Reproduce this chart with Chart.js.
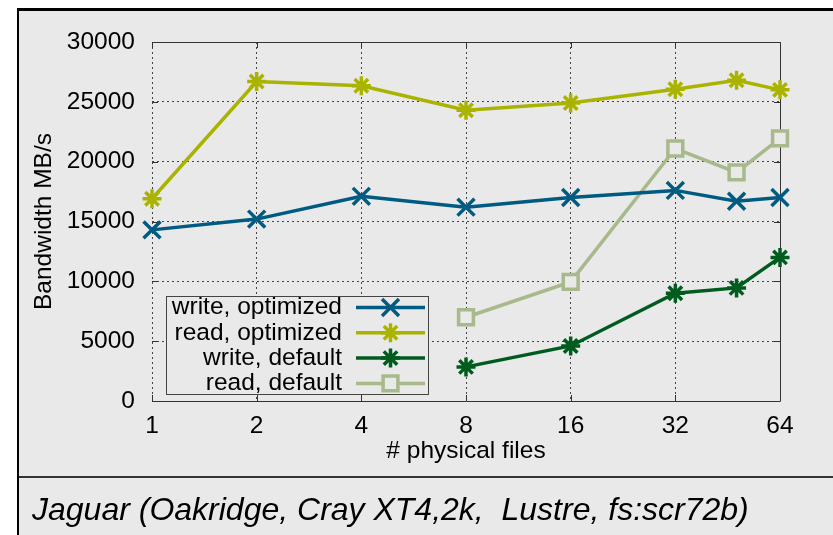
<!DOCTYPE html>
<html><head><meta charset="utf-8">
<script src="https://cdn.jsdelivr.net/npm/chart.js@4/dist/chart.umd.min.js"></script>
<style>html,body{margin:0;padding:0;background:#fff;} canvas{display:block;}</style>
</head><body>
<canvas id="c" width="833" height="535"></canvas>
<script>
const files = [1, 2, 4, 8, 16, 32, 48, 64];
const xTickLabels = ['1', '2', '4', '8', '16', '32', '64'];
const writeOptimized = [14300, 15200, 17100, 16200, 17000, 17600, 16700, 17000];
const readOptimized  = [16900, 26700, 26350, 24300, 24900, 26050, 26800, 26000];
const writeDefault   = [null, null, null, 2850, 4600, 9000, 9450, 12000];
const readDefault    = [null, null, null, 7000, 9950, 21100, 19100, 21950];
const seriesLabels = ['write, optimized', 'read, optimized', 'write, default', 'read, default'];
const yTitle = 'Bandwidth MB/s';
const xTitle = '# physical files';
const caption = 'Jaguar (Oakridge, Cray XT4,2k,  Lustre, fs:scr72b)';

const FONT = "'Liberation Sans', Arial, sans-serif";
const FS = 24.5;
const BG = '#e9e9e9';
const colors = ['#005b82', '#aab400', '#005c1e', '#a8b98b'];
const styles = ['crossRot', 'star', 'star', 'rect'];
const radii = [12, 9.5, 9.5, 10.5];
const seriesValues = [writeOptimized, readOptimized, writeDefault, readDefault];

function toPoints(vals) {
  const pts = [];
  vals.forEach((v, i) => { if (v !== null) pts.push({ x: Math.log2(files[i]), y: v }); });
  return pts;
}

const datasets = seriesValues.map((vals, i) => ({
  label: seriesLabels[i],
  data: toPoints(vals),
  borderColor: colors[i],
  backgroundColor: colors[i],
  pointBackgroundColor: styles[i] === 'rect' ? BG : colors[i],
  pointBorderColor: colors[i],
  pointStyle: styles[i],
  pointRadius: radii[i],
  pointHoverRadius: radii[i],
  pointBorderWidth: 3.5,
  borderWidth: 3.5,
  tension: 0,
  clip: false
}));

const framePlugin = {
  id: 'frame',
  beforeDraw(chart) {
    const ctx = chart.ctx; ctx.save();
    ctx.fillStyle = '#fff'; ctx.fillRect(0, 0, 833, 535);
    ctx.fillStyle = BG; ctx.fillRect(18, 8, 815, 527);
    ctx.fillStyle = '#000'; ctx.fillRect(17, 8, 816, 3); ctx.fillRect(17, 8, 2, 527);
    ctx.fillStyle = '#333'; ctx.fillRect(19, 476, 814, 2);
    ctx.fillStyle = '#000'; ctx.font = 'italic 32px ' + FONT;
    ctx.textAlign = 'left'; ctx.textBaseline = 'alphabetic';
    ctx.fillText(caption, 32, 520);
    ctx.restore();
  },
  beforeDatasetsDraw(chart) {
    const ctx = chart.ctx, a = chart.chartArea;
    const xs = chart.scales.x, ys = chart.scales.y;
    ctx.save();
    ctx.strokeStyle = '#333'; ctx.lineWidth = 1; ctx.setLineDash([]);
    ctx.beginPath();
    ctx.moveTo(a.left, a.top + 0.5); ctx.lineTo(a.right + 0.5, a.top + 0.5);
    ctx.lineTo(a.right + 0.5, a.bottom + 0.5); ctx.lineTo(a.left, a.bottom + 0.5);
    ys.ticks.forEach(t => {
      const y = Math.round(ys.getPixelForValue(t.value)) + 0.5;
      ctx.moveTo(a.left, y); ctx.lineTo(a.left + 6, y);
      ctx.moveTo(a.right, y); ctx.lineTo(a.right - 6, y);
    });
    xs.ticks.forEach(t => {
      const x = Math.round(xs.getPixelForValue(t.value)) + 0.5;
      ctx.moveTo(x, a.bottom); ctx.lineTo(x, a.bottom - 6);
      ctx.moveTo(x, a.top); ctx.lineTo(x, a.top + 6);
    });
    ctx.stroke();
    ctx.restore();
  },
  afterDraw(chart) {
    const ctx = chart.ctx; ctx.save();
    const bx = 166, by = 296, bw = 262, bh = 98;
    ctx.fillStyle = BG; ctx.fillRect(bx, by, bw, bh);
    ctx.strokeStyle = '#444'; ctx.lineWidth = 1; ctx.setLineDash([]);
    ctx.strokeRect(bx + 0.5, by + 0.5, bw, bh);
    chart.data.datasets.forEach((ds, i) => {
      const y = 307.5 + i * 25.3;
      ctx.fillStyle = '#000'; ctx.font = FS + 'px ' + FONT;
      ctx.textAlign = 'right'; ctx.textBaseline = 'middle';
      ctx.fillText(ds.label, 342, y);
      ctx.strokeStyle = ds.borderColor; ctx.lineWidth = 3.5;
      ctx.beginPath(); ctx.moveTo(356, y); ctx.lineTo(425, y); ctx.stroke();
      ctx.fillStyle = ds.pointBackgroundColor; ctx.strokeStyle = ds.pointBorderColor; ctx.lineWidth = 3.5;
      Chart.helpers.drawPoint(ctx, { pointStyle: ds.pointStyle, radius: ds.pointRadius, borderWidth: 3.5, rotation: 0 }, 390.5, y);
    });
    ctx.restore();
  }
};

const tickFont = { family: FONT, size: FS };

new Chart(document.getElementById('c'), {
  type: 'line',
  data: { datasets },
  plugins: [framePlugin],
  options: {
    responsive: false,
    animation: false,
    devicePixelRatio: 1,
    layout: { padding: { left: 0, top: 42, right: 53, bottom: 72 } },
    plugins: { legend: { display: false }, tooltip: { enabled: false } },
    scales: {
      x: {
        type: 'linear', min: 0, max: 6,
        afterFit(s) { s.height = 62; },
        afterBuildTicks(s) { s.ticks = xTickLabels.map((_, i) => ({ value: i })); },
        ticks: { callback: v => xTickLabels[v], font: tickFont, color: '#000', padding: 11, maxRotation: 0, autoSkip: false },
        grid: { color: '#444', drawTicks: false, lineWidth: 1 },
        border: { display: false, dash: [2, 3] },
        title: { display: true, text: xTitle, font: { family: FONT, size: FS, lineHeight: 1 }, color: '#000', padding: 0 }
      },
      y: {
        min: 0, max: 30000,
        afterFit(s) { s.width = 152; },
        ticks: { stepSize: 5000, callback: v => String(v), font: tickFont, color: '#000', padding: 17 },
        grid: { color: '#444', drawTicks: false, lineWidth: 1 },
        border: { display: false, dash: [2, 3] },
        title: { display: true, text: yTitle, font: { family: FONT, size: FS, lineHeight: 1.2 }, color: '#000', padding: { top: 30, bottom: 0 } }
      }
    }
  }
});
</script>
</body></html>
